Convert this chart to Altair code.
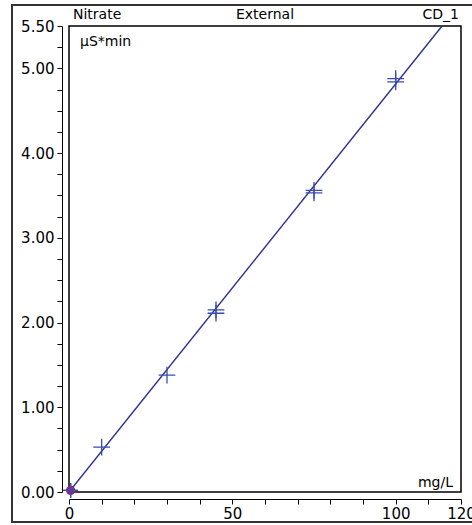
import altair as alt
import pandas as pd

# Calibration standards (amount mg/L, area µS*min), replicate injections
std_x = [10, 30, 45, 45, 75, 75, 100, 100]
std_y = [0.53, 1.38, 2.11, 2.15, 3.53, 3.56, 4.84, 4.88]
# Blank / origin point
blank_x = [0.5, 0.5]
blank_y = [0.02, 0.02]
# Calibration line endpoints
line_x = [0.0, 114.2]
line_y = [0.0, 5.5]

y_ticks = [i * 0.25 for i in range(23)]
x_ticks = list(range(0, 121, 10))

FONT = "DejaVu Sans"
W, H = 392, 466

std_df = pd.DataFrame({"x": std_x, "y": std_y})
blank_df = pd.DataFrame({"x": blank_x, "y": blank_y})
line_df = pd.DataFrame({"x": line_x, "y": line_y})

xs = alt.Scale(domain=[0, 120], nice=False, zero=False)
ys = alt.Scale(domain=[0, 5.5], nice=False, zero=False)

x_axis = alt.Axis(
    values=x_ticks, title=None, offset=7, tickSize=5, domainColor="black",
    tickColor="black", labelColor="black", labelFont=FONT, labelFontSize=15,
    labelExpr="(datum.value % 50 == 0 || datum.value == 120) ? datum.label : ''",
    labelPadding=2, grid=False, labelFlush=False, labelOverlap=False,
)
y_axis = alt.Axis(
    values=y_ticks, title=None, offset=7, tickSize=5, domainColor="black",
    tickColor="black", labelColor="black", labelFont=FONT, labelFontSize=15,
    format=".2f",
    labelExpr="(datum.value % 1 == 0 || datum.value == 5.5) ? datum.label : ''",
    labelPadding=3, grid=False, labelFlush=False, labelOverlap=False,
)

cross = "M-1,0L1,0M0,-1L0,1"

def enc(c):
    return c.encode(
        x=alt.X("x:Q", scale=xs, axis=x_axis),
        y=alt.Y("y:Q", scale=ys, axis=y_axis),
    )

line = enc(alt.Chart(line_df).mark_line(color="#2E3192", strokeWidth=1.4))
pts = enc(alt.Chart(std_df).mark_point(
    shape=cross, size=280, filled=False, color="#3A4BB0", strokeWidth=1.3, opacity=1
))
blank_dot = enc(alt.Chart(blank_df).mark_point(
    shape="circle", size=80, filled=True, color="#8B2A7A", opacity=1
))
blank_cross = enc(alt.Chart(blank_df).mark_point(
    shape=cross, size=220, filled=False, color="#3A4BB0", strokeWidth=1.3, opacity=1
))

frame = alt.Chart(pd.DataFrame({"a": [0]})).mark_rect(
    fill=None, stroke="#333333", strokeWidth=2
).encode(
    x=alt.value(-57), x2=alt.value(W + 20), y=alt.value(-21), y2=alt.value(H + 30)
)

def label(text, x, y, align, size=14):
    return alt.Chart(pd.DataFrame({"t": [text]})).mark_text(
        align=align, baseline="alphabetic", font=FONT, fontSize=size, color="black"
    ).encode(text="t:N", x=alt.value(x), y=alt.value(y))

texts = [
    label("Nitrate", 4, -7, "left"),
    label("External", 196, -7, "center"),
    label("CD_1", 390, -7, "right"),
    label("μS*min", 11, 20, "left"),
    label("mg/L", 384, 461, "right"),
]

chart = alt.layer(frame, line, pts, blank_dot, blank_cross, *texts).properties(
    width=W, height=H,
    autosize=alt.AutoSizeParams(type="none"),
    padding={"left": 69, "top": 26, "right": 11, "bottom": 33},
    background="white",
).configure_view(stroke="black", strokeWidth=1.5).configure_axis(labelOverlap=False)

chart.save("out.html", embed_options={"renderer": "svg", "actions": False})
